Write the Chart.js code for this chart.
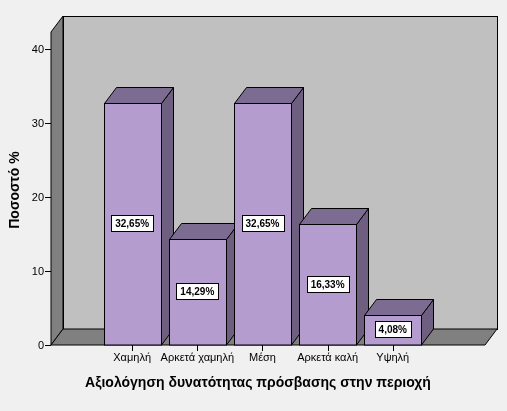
<!DOCTYPE html>
<html><head><meta charset="utf-8">
<script src="https://cdn.jsdelivr.net/npm/chart.js@4"></script>
<style>html,body{margin:0;padding:0;background:#f0f0f0}#w{width:507px;height:411px}</style>
</head><body><div id="w"><canvas id="c"></canvas></div>
<script>
const categories = ["Χαμηλή","Αρκετά χαμηλή","Μέση","Αρκετά καλή","Υψηλή"];
const values = [32.65, 14.29, 32.65, 16.33, 4.08];
const valueLabels = ["32,65%","14,29%","32,65%","16,33%","4,08%"];
const yTicks = [0,10,20,30,40];
const DX = 12, DY = -16, BW = 57;
const F = '"Liberation Sans", Arial, sans-serif';

const box3d = {
  id:'box3d',
  beforeDatasetsDraw(chart){
    const {ctx, chartArea:a, scales:{y}} = chart;
    const y0 = y.getPixelForValue(0), yt = 16 - DY;
    ctx.save();
    ctx.lineWidth = 1; ctx.strokeStyle = '#000';
    // back wall
    ctx.fillStyle = '#c0c0c0';
    ctx.fillRect(a.left+DX, 16, a.right-a.left, y0-yt);
    ctx.strokeRect(a.left+DX+0.5, 16.5, a.right-a.left, y0-yt);
    // left wall
    ctx.beginPath();
    ctx.moveTo(a.left, y0); ctx.lineTo(a.left, yt); ctx.lineTo(a.left+DX, 16); ctx.lineTo(a.left+DX, y0+DY); ctx.closePath();
    ctx.fillStyle = '#808080'; ctx.fill(); ctx.stroke();
    // floor
    ctx.beginPath();
    ctx.moveTo(a.left, y0); ctx.lineTo(a.right, y0); ctx.lineTo(a.right+DX, y0+DY); ctx.lineTo(a.left+DX, y0+DY); ctx.closePath();
    ctx.fillStyle = '#808080'; ctx.fill(); ctx.stroke();
    // y ticks
    ctx.fillStyle = '#000'; ctx.font = '11px '+F; ctx.textAlign='right'; ctx.textBaseline='middle';
    yTicks.forEach(t=>{
      const py = Math.round(y.getPixelForValue(t))+0.5;
      ctx.beginPath(); ctx.moveTo(a.left-6, py); ctx.lineTo(a.left, py); ctx.stroke();
      ctx.fillText(String(t), a.left-7, py);
    });
    ctx.restore();
  },
  afterDatasetsDraw(chart){
    const {ctx, scales:{x,y}} = chart;
    const y0 = y.getPixelForValue(0);
    ctx.save(); ctx.lineWidth=1; ctx.strokeStyle='#000';
    values.forEach((v,i)=>{
      const cx = x.getPixelForValue(i), l = Math.round(cx-BW/2)+0.5, r = l+BW, t = Math.round(y.getPixelForValue(v))+0.5;
      // side
      ctx.beginPath(); ctx.moveTo(r,y0); ctx.lineTo(r,t); ctx.lineTo(r+DX,t+DY); ctx.lineTo(r+DX,y0+DY); ctx.closePath();
      ctx.fillStyle='#6e5f80'; ctx.fill(); ctx.stroke();
      // top
      ctx.beginPath(); ctx.moveTo(l,t); ctx.lineTo(r,t); ctx.lineTo(r+DX,t+DY); ctx.lineTo(l+DX,t+DY); ctx.closePath();
      ctx.fillStyle='#7d6c91'; ctx.fill(); ctx.stroke();
      // front
      ctx.fillStyle='#b59ccf'; ctx.fillRect(l,t,BW,y0-t); ctx.strokeRect(l,t,BW,y0-t);
      // label
      ctx.font='bold 10px '+F; ctx.textAlign='center'; ctx.textBaseline='middle';
      const my = Math.round((t+y0)/2), w = ctx.measureText(valueLabels[i]).width+8;
      ctx.fillStyle='#fff'; ctx.fillRect(Math.round(cx-w/2)+0.5, my-8.5, Math.round(w), 16);
      ctx.strokeRect(Math.round(cx-w/2)+0.5, my-8.5, Math.round(w), 16);
      ctx.fillStyle='#000'; ctx.fillText(valueLabels[i], cx, my);
      // x tick + label
      const tx = Math.round(cx)+0.5;
      ctx.beginPath(); ctx.moveTo(tx,y0); ctx.lineTo(tx,y0+6); ctx.stroke();
      ctx.font='11px '+F; ctx.textBaseline='top'; ctx.fillText(categories[i], cx, y0+7);
    });
    // titles
    ctx.font='bold 14px '+F; ctx.textAlign='center'; ctx.textBaseline='middle';
    ctx.fillText('Αξιολόγηση δυνατότητας πρόσβασης στην περιοχή', 258, 383);
    ctx.translate(15,190); ctx.rotate(-Math.PI/2); ctx.fillText('Ποσοστό %',0,0);
    ctx.restore();
  }
};

new Chart(document.getElementById('c'), {
  type:'bar',
  data:{datasets:[{data:values.map((v,i)=>({x:i,y:v})), backgroundColor:'rgba(0,0,0,0)', barThickness:BW}]},
  options:{
    responsive:true, maintainAspectRatio:false, animation:false,
    layout:{padding:{left:51,right:22,top:49,bottom:66}},
    plugins:{legend:{display:false},tooltip:{enabled:false}},
    scales:{
      x:{type:'linear', min:-0.77, max:4.94, display:false},
      y:{min:0, max:40, display:false}
    }
  },
  plugins:[box3d]
});
</script></body></html>
